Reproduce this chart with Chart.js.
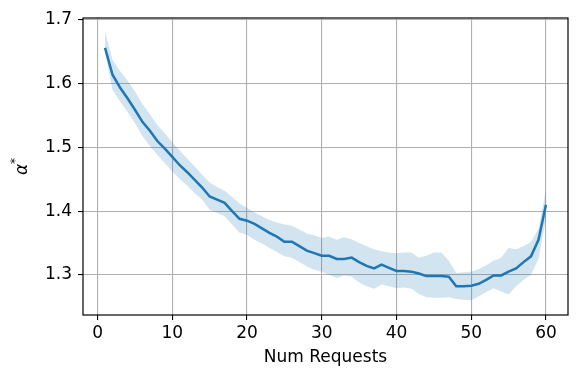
<!DOCTYPE html>
<html>
<head>
<meta charset="utf-8">
<script src="https://cdn.jsdelivr.net/npm/chart.js@4.4.1/dist/chart.umd.min.js"></script>
<style>
  html, body { margin: 0; padding: 0; background: #fff; }
  #wrap { width: 582px; height: 385px; }
</style>
</head>
<body>
<div id="wrap"><canvas id="chartroot" width="582" height="385"></canvas></div>
<script>
// num requests 1..60
const numRequests = [];
for (let i = 1; i <= 60; i++) numRequests.push(i);

// mean alpha*
const alphaMean = [
    1.656, 1.614, 1.594, 1.577, 1.559, 1.540, 1.526, 1.510, 1.498, 1.485,
    1.472, 1.461, 1.449, 1.437, 1.423, 1.418, 1.413, 1.400, 1.388, 1.385,
    1.380, 1.373, 1.366, 1.360, 1.352, 1.352, 1.345, 1.338, 1.334, 1.330,
    1.330, 1.325, 1.325, 1.327, 1.320, 1.314, 1.310, 1.316, 1.311, 1.306,
    1.306, 1.305, 1.302, 1.298, 1.298, 1.298, 1.297, 1.282, 1.282, 1.283,
    1.286, 1.292, 1.299, 1.299, 1.305, 1.310, 1.320, 1.329, 1.355, 1.410
];
// upper edge of shaded band
const alphaUpper = [
    1.682, 1.637, 1.620, 1.605, 1.588, 1.568, 1.552, 1.535, 1.522, 1.508,
    1.495, 1.482, 1.470, 1.457, 1.445, 1.438, 1.432, 1.422, 1.412, 1.405,
    1.398, 1.392, 1.386, 1.382, 1.379, 1.377, 1.371, 1.365, 1.362, 1.358,
    1.360, 1.355, 1.359, 1.356, 1.350, 1.345, 1.340, 1.337, 1.335, 1.334,
    1.335, 1.335, 1.327, 1.330, 1.335, 1.335, 1.322, 1.303, 1.304, 1.305,
    1.309, 1.315, 1.322, 1.327, 1.342, 1.340, 1.345, 1.352, 1.372, 1.434
];
// lower edge of shaded band
const alphaLower = [
    1.650, 1.590, 1.572, 1.556, 1.538, 1.518, 1.502, 1.488, 1.475, 1.462,
    1.450, 1.440, 1.428, 1.418, 1.402, 1.397, 1.392, 1.379, 1.366, 1.363,
    1.355, 1.349, 1.342, 1.336, 1.329, 1.327, 1.320, 1.313, 1.308, 1.305,
    1.300, 1.295, 1.299, 1.297, 1.288, 1.282, 1.278, 1.285, 1.282, 1.279,
    1.280, 1.278, 1.270, 1.265, 1.264, 1.264, 1.265, 1.262, 1.261, 1.260,
    1.266, 1.273, 1.279, 1.274, 1.269, 1.282, 1.292, 1.300, 1.325, 1.387
];
const xTicks = [0, 10, 20, 30, 40, 50, 60];
const yTicks = [1.3, 1.4, 1.5, 1.6, 1.7];

const FONT = "'DejaVu Sans', sans-serif";
const FSIZE = 17;
const toXY = arr => arr.map((v, i) => ({ x: numRequests[i], y: v }));

// black box round the plot, like matplotlib spines
const framePlugin = {
    id: 'frame',
    afterDatasetsDraw(chart) {
        const { ctx, chartArea: a } = chart;
        ctx.save();
        ctx.strokeStyle = '#000';
        ctx.lineWidth = 1.2;
        ctx.strokeRect(a.left, a.top, a.right - a.left, a.bottom - a.top);
        ctx.restore();
    }
};

// y label: italic alpha with raised star
const yLabelPlugin = {
    id: 'ylabel',
    afterDraw(chart) {
        const { ctx, chartArea: a } = chart;
        ctx.save();
        ctx.translate(a.left - 62, (a.top + a.bottom) / 2);
        ctx.rotate(-Math.PI / 2);
        ctx.fillStyle = '#000';
        ctx.textBaseline = 'middle';
        ctx.font = 'italic ' + FSIZE + 'px ' + FONT;
        const w1 = ctx.measureText('α').width;
        ctx.font = '12px ' + FONT;
        const w2 = ctx.measureText('*').width;
        const x0 = -(w1 + w2) / 2;
        ctx.font = 'italic ' + FSIZE + 'px ' + FONT;
        ctx.textAlign = 'left';
        ctx.fillText('α', x0, 2);
        ctx.font = '12px ' + FONT;
        ctx.fillText('*', x0 + w1, -5);
        ctx.restore();
    }
};

new Chart(document.getElementById('chartroot'), {
    type: 'line',
    data: {
        datasets: [
            {
                label: 'lower',
                data: toXY(alphaLower),
                borderWidth: 0,
                borderColor: 'rgba(0,0,0,0)',
                pointRadius: 0,
                fill: false
            },
            {
                label: 'upper',
                data: toXY(alphaUpper),
                borderWidth: 0,
                borderColor: 'rgba(0,0,0,0)',
                backgroundColor: 'rgba(31,119,180,0.2)',
                pointRadius: 0,
                fill: '-1'
            },
            {
                label: 'mean',
                data: toXY(alphaMean),
                borderColor: '#1f77b4',
                borderWidth: 2.5,
                pointRadius: 0,
                fill: false
            }
        ]
    },
    options: {
        responsive: false,
        animation: false,
        devicePixelRatio: 1,
        layout: { padding: { left: 0, top: 18, right: 14, bottom: 0 } },
        plugins: {
            legend: { display: false },
            tooltip: { enabled: false }
        },
        scales: {
            x: {
                type: 'linear',
                min: -1.95,
                max: 62.95,
                afterFit: s => { s.height = 70; },
                afterBuildTicks: s => { s.ticks = xTicks.map(v => ({ value: v })); },
                grid: { color: '#b0b0b0', lineWidth: 1.1, tickLength: 5, tickColor: '#000' },
                border: { display: false },
                ticks: {
                    color: '#000',
                    font: { family: FONT, size: FSIZE },
                    padding: 3,
                    maxRotation: 0,
                    callback: v => String(v)
                },
                title: {
                    display: true,
                    text: 'Num Requests',
                    color: '#000',
                    font: { family: FONT, size: FSIZE },
                    padding: { top: 0, bottom: 17 }
                }
            },
            y: {
                type: 'linear',
                min: 1.237,
                max: 1.703,
                afterFit: s => { s.width = 83; },
                afterBuildTicks: s => { s.ticks = yTicks.map(v => ({ value: v })); },
                grid: { color: '#b0b0b0', lineWidth: 1.1, tickLength: 5, tickColor: '#000' },
                border: { display: false },
                ticks: {
                    color: '#000',
                    font: { family: FONT, size: FSIZE },
                    padding: 6,
                    callback: v => v.toFixed(1)
                }
            }
        }
    },
    plugins: [framePlugin, yLabelPlugin]
});
</script>
</body>
</html>
